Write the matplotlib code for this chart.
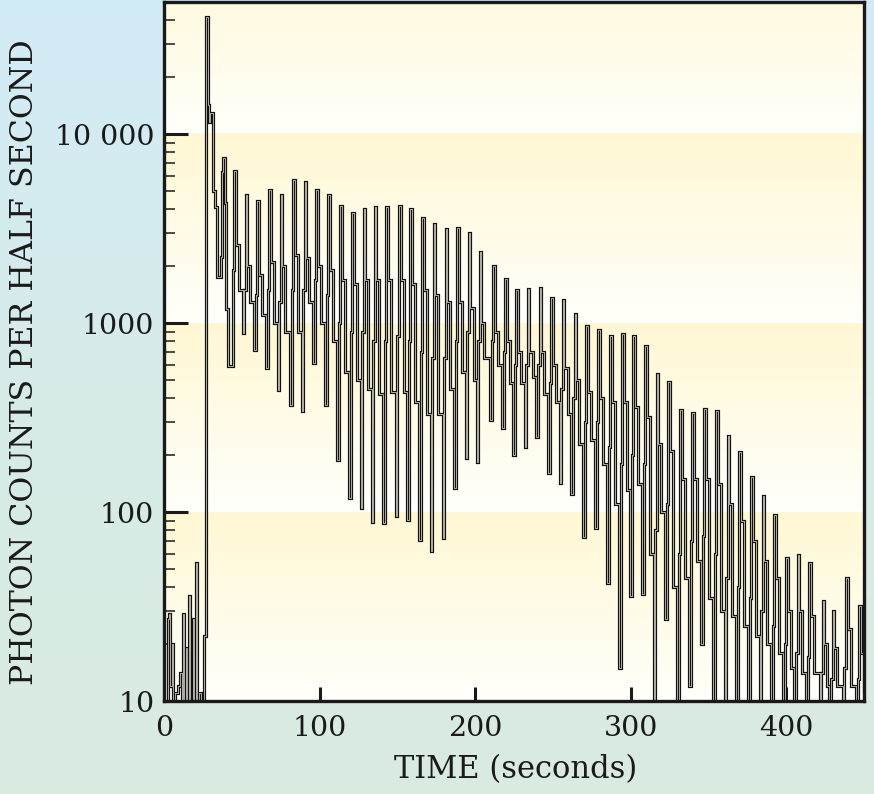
import numpy as np
import matplotlib.pyplot as plt
from matplotlib.colors import LinearSegmentedColormap
from matplotlib.ticker import LogLocator, NullFormatter

plt.rcParams['font.family'] = ['DejaVu Serif']

# quiet bins before the burst: bin start (s) and counts (1 = below the axis)
pre_t = [0.0, 2.5, 3.0, 4.0, 5.0, 6.0, 7.0, 9.0, 10.0, 11.5, 12.0, 13.0,
         14.0, 15.0, 16.0, 17.0, 18.5, 19.5, 20.5, 21.0, 22.5, 23.5, 26.0]
pre_n = [1, 27, 29, 12, 20, 1, 11, 12, 14, 1, 29, 1,
         19, 1, 36, 1, 27, 1, 54, 1, 11, 1, 22]

# initial spike and its decay
burst_t = [27.0, 28.3, 29.0, 29.6, 31.7, 32.8, 33.8, 34.2, 36.4, 37.0,
           38.1, 39.0, 39.6, 41.1]
burst_n = [41900, 14200, 11600, 12900, 5000, 4100, 2240, 1750, 2240, 6300,
           7500, 4300, 1180, 590]

# 8-second pulsations: time of each pulse peak and the levels around it
peak_t = [45.6, 53.1, 60.6, 68.1, 75.6, 83.5, 91.0, 98.5, 106.0, 113.7,
          121.5, 128.9, 136.0, 143.5, 151.6, 158.9, 166.6, 173.9, 181.6, 188.9,
          196.5, 203.4, 212.1, 219.9, 227.0, 234.4, 241.9, 249.5, 256.9, 264.4,
          271.9, 279.8, 287.4, 295.0, 302.3, 309.8, 317.3, 324.8, 332.5, 340.2,
          347.9, 355.4, 362.9, 370.4, 377.9, 385.4, 392.9, 400.4, 407.8, 415.3,
          423.9, 430.3, 438.9, 447.4]
peak_n = [6340, 4770, 4400, 5070, 4770, 5690, 5610, 5070, 4770, 4140,
          3820, 4010, 4110, 4110, 4140, 4010, 3600, 3350, 3140, 3180,
          2990, 2370, 1995, 1710, 1500, 1510, 1530, 1355, 1330, 1120,
          968, 922, 857, 878, 857, 752, 539, 487, 345, 334,
          349, 341, 252, 209, 154, 121, 97, 57, 59, 54,
          34, 30, 45, 32]
trough_n = [590, 885, 722, 578, 444, 370, 341, 614, 370, 189,
            119, 105, 89, 87, 95, 91, 71, 62, 73, 134,
            193, 183, 308, 279, 201, 222, 251, 161, 142, 124,
            74, 82, 42, 15, 36, 37, 1, 27, 1, 12,
            20, 1, 1, 1, 1, 1, 1, 1, 1, 1,
            1, 1, 1, 1]
rise_n = [1900, 1500, 1400, 1500, 1300, 1500, 1500, 1700, 1400, 1000,
          900, 900, 800, 800, 850, 800, 700, 650, 650, 800,
          900, 800, 800, 700, 600, 600, 600, 480, 450, 400,
          300, 300, 220, 180, 200, 180, 80, 110, 60, 70,
          75, 60, 45, 40, 35, 30, 25, 20, 18, 17,
          14, 13, 15, 13]
shoulder_n = [2600, 2000, 1800, 2100, 2000, 2300, 2200, 2000, 1900, 1700,
              1600, 1700, 1700, 1700, 1700, 1600, 1500, 1400, 1300, 1300,
              1200, 1000, 900, 800, 700, 700, 700, 600, 580, 500,
              430, 400, 380, 380, 360, 320, 230, 210, 150, 150,
              150, 140, 110, 90, 70, 55, 45, 30, 30, 28,
              20, 19, 24, 18]
fall_n = [1500, 1300, 1100, 1000, 900, 900, 1300, 1000, 800, 550,
          500, 450, 420, 430, 430, 380, 330, 330, 450, 550,
          500, 650, 600, 480, 480, 520, 420, 380, 330, 230,
          240, 180, 110, 130, 140, 60, 100, 40, 45, 55,
          35, 30, 28, 25, 22, 20, 18, 15, 14, 14,
          12, 12, 12, 11]

ylabels = ['10', '100', '1000', '10 000']
xlabels = ['0', '100', '200', '300', '400']

# step edges and levels
edges = list(pre_t) + list(burst_t)
counts = list(pre_n) + list(burst_n)
for i, tp in enumerate(peak_t):
    edges += [tp - 2.5, tp - 1.5, tp - 0.5, tp + 0.5, tp + 2.5]
    counts += [trough_n[i], rise_n[i], peak_n[i], shoulder_n[i], fall_n[i]]
edges.append(450.0)

fig = plt.figure(figsize=(8.74, 7.94), dpi=100)

# sky-to-mint page background
bg = fig.add_axes([0, 0, 1, 1], zorder=-1)
sky = LinearSegmentedColormap.from_list('sky', ['#d2ecf7', '#d7ebe8', '#daece0'])
bg.imshow(np.linspace(0, 1, 256)[:, None], aspect='auto', cmap=sky,
          extent=[0, 1, 0, 1])
bg.axis('off')

ax = fig.add_axes([164 / 874, 1 - 701 / 794, 700 / 874, 699 / 794])
ax.set_yscale('log')
ax.set_xlim(0, 450)
ax.set_ylim(10, 50000)

# each decade fades from pale yellow (top) to white (bottom)
band = LinearSegmentedColormap.from_list('band', ['#fffffb', '#fff7d3'])
yb = np.logspace(1, np.log10(50000), 400)
frac = np.log10(np.sqrt(yb[:-1] * yb[1:])) % 1
ax.pcolormesh([0, 450], yb, frac[:, None], cmap=band, vmin=0, vmax=1,
              shading='flat', zorder=0, rasterized=True)

ax.stairs(counts, edges, baseline=None, color='#111111', lw=2.3, zorder=2)
ax.stairs(counts, edges, baseline=None, color='#d9d8cf', lw=0.55, zorder=3)

ax.set_yticks([10, 100, 1000, 10000], labels=ylabels)
ax.yaxis.set_minor_locator(LogLocator(base=10, subs=range(2, 10)))
ax.yaxis.set_minor_formatter(NullFormatter())
ax.set_xticks([0, 100, 200, 300, 400], labels=xlabels)
ax.tick_params(axis='y', which='major', direction='in', length=17, width=2.2,
               pad=7, labelsize=20.5, colors='#1a1a1a')
ax.tick_params(axis='y', which='minor', direction='in', length=8, width=1.1,
               colors='#1a1a1a')
ax.tick_params(axis='x', direction='in', length=10, width=2.2, pad=10,
               labelsize=20.5, colors='#1a1a1a')
for s in ax.spines.values():
    s.set_linewidth(2.4)
    s.set_color('#1a1a1a')
    s.set_zorder(5)

fig.text(516 / 874, 1 - 770 / 794, 'TIME (seconds)', ha='center', va='center',
         fontsize=22, color='#1a1a1a')
fig.text(25 / 874, 1 - 362 / 794, 'PHOTON COUNTS PER HALF SECOND', rotation=90,
         ha='center', va='center', fontsize=22.8, color='#1a1a1a')

fig.savefig('out.png', dpi=100)
